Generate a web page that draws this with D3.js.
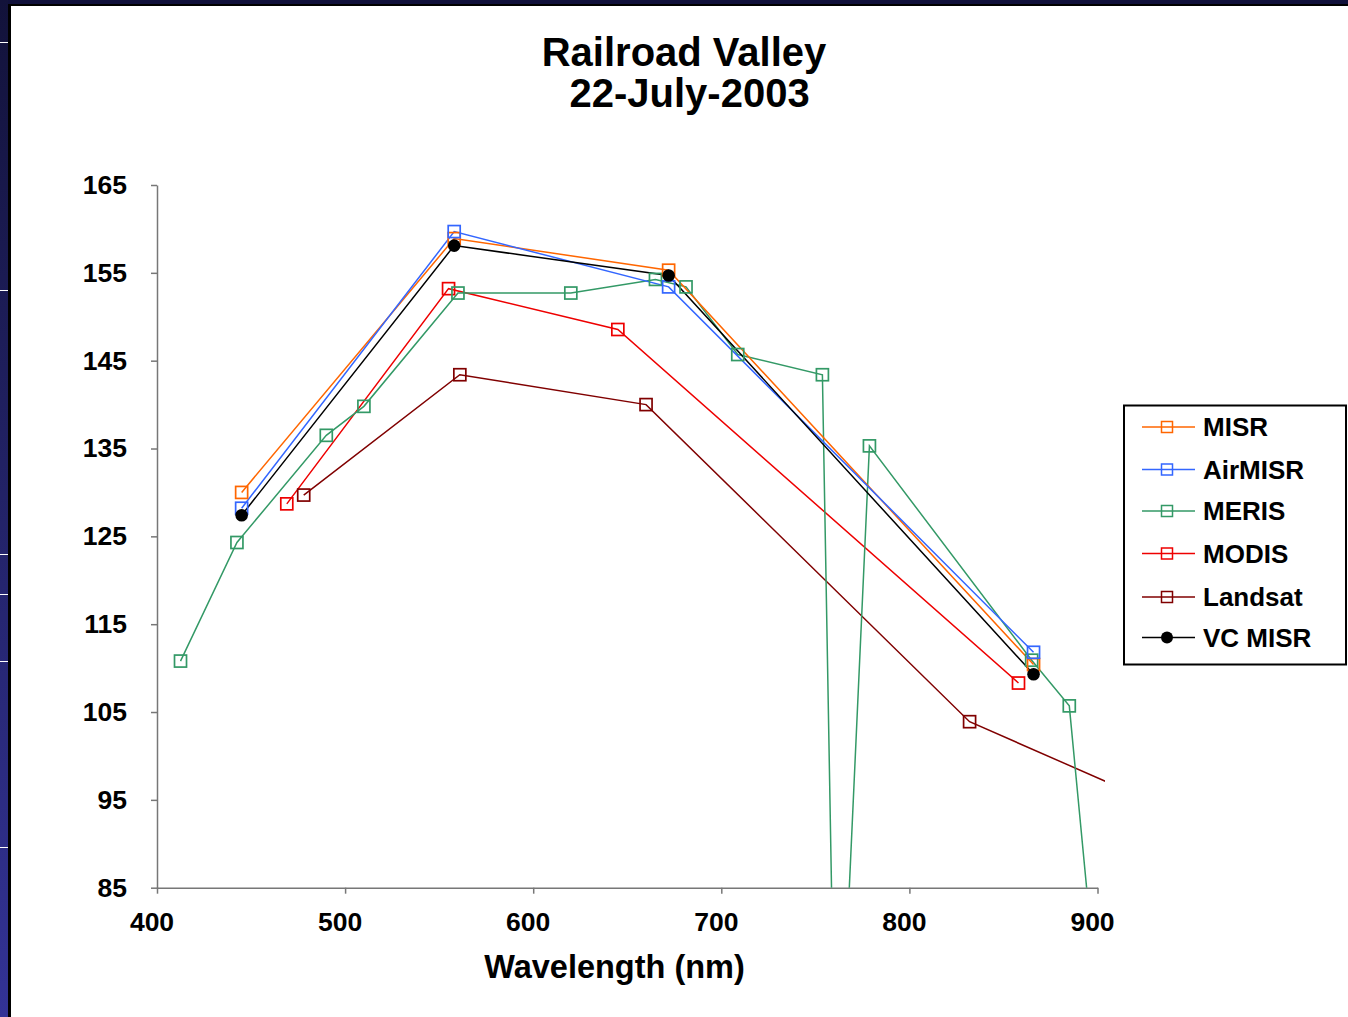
<!DOCTYPE html>
<html><head><meta charset="utf-8">
<script src="https://cdn.jsdelivr.net/npm/d3@7"></script>
<style>html,body{margin:0;padding:0;background:#fff;}svg{display:block;font-family:"Liberation Sans",Arial,sans-serif;}</style>
</head><body>
<svg id="c" width="1348" height="1017"></svg>
<script>
// ---- data ----
const titleLines = ["Railroad Valley", " 22-July-2003"];
const xLabel = "Wavelength (nm)";
const xTicks = [400, 500, 600, 700, 800, 900];
const yTicks = [85, 95, 105, 115, 125, 135, 145, 155, 165];

const misrWl = [445, 558, 672, 866];
const misrVal = [130.0, 158.9, 155.3, 110.4];
const airmisrWl = [445, 558, 672, 866];
const airmisrVal = [128.2, 159.7, 153.4, 111.8];
const merisWl = [412.5, 442.5, 490, 510, 560, 620, 665, 681.25, 708.75, 753.75, 761.25, 778.75, 865, 885, 900];
const merisVal = [110.8, 124.3, 136.5, 139.8, 152.7, 152.7, 154.25, 153.4, 145.7, 143.4, 53, 135.3, 110.9, 105.7, 72];
const modisWl = [469, 555, 645, 858];
const modisVal = [128.7, 153.2, 148.55, 108.3];
const landsatWl = [478, 561, 660, 832, 1650];
const landsatVal = [129.7, 143.4, 140.0, 103.9, 27];
const vcmisrWl = [445, 558, 672, 866];
const vcmisrVal = [127.4, 158.1, 154.7, 109.3];

const seriesNames = ["MISR", "AirMISR", "MERIS", "MODIS", "Landsat", "VC MISR"];
const seriesColors = ["#FF6600", "#3366FF", "#339966", "#EE0000", "#800000", "#000000"];
const seriesWl = [misrWl, airmisrWl, merisWl, modisWl, landsatWl, vcmisrWl];
const seriesVal = [misrVal, airmisrVal, merisVal, modisVal, landsatVal, vcmisrVal];
const seriesMarker = ["square", "square", "square", "square", "square", "circle"];

// ---- chart ----
const svg = d3.select("#c");
const defs = svg.append("defs");
const grad = defs.append("linearGradient").attr("id", "navy").attr("x1", 0).attr("y1", 0).attr("x2", 0).attr("y2", 1);
grad.append("stop").attr("offset", "0%").attr("stop-color", "#12123a");
grad.append("stop").attr("offset", "100%").attr("stop-color", "#333396");

// frame
svg.append("rect").attr("x", 0).attr("y", 0).attr("width", 1348).attr("height", 4).attr("fill", "#10103a");
svg.append("rect").attr("x", 0).attr("y", 0).attr("width", 8).attr("height", 1017).attr("fill", "url(#navy)");
svg.append("rect").attr("x", 8).attr("y", 4).attr("width", 1340).attr("height", 2).attr("fill", "#000");
svg.append("rect").attr("x", 8).attr("y", 4).attr("width", 3).attr("height", 1013).attr("fill", "#000");
[42, 290, 554, 594, 661, 847].forEach(y => {
  svg.append("rect").attr("x", 0).attr("y", y).attr("width", 8).attr("height", 1).attr("fill", "#fff");
});

const x = d3.scaleLinear().domain([400, 900]).range([157, 1097.5]);
const y = d3.scaleLinear().domain([85, 165]).range([887.7, 185]);

defs.append("clipPath").attr("id", "plot").append("rect")
  .attr("x", 150).attr("y", 150).attr("width", 1105 - 150).attr("height", 887.7 - 150);

// title
const t = svg.append("text").attr("text-anchor", "middle").attr("font-weight", "bold")
  .attr("font-size", 40).attr("fill", "#000").style("white-space", "pre");
t.append("tspan").attr("x", 684).attr("y", 66).text(titleLines[0]);
t.append("tspan").attr("x", 684).attr("y", 106.5).text(titleLines[1]);

// axes
const yAxis = d3.axisLeft(y).tickValues(yTicks).tickSize(6).tickPadding(0).tickSizeOuter(0).tickFormat(d3.format("d"));
const gy = svg.append("g").attr("transform", "translate(157,0)").call(yAxis);
gy.select(".domain").attr("stroke", "#777").attr("stroke-width", 1.5);
gy.selectAll(".tick line").attr("stroke", "#777").attr("stroke-width", 1.5);
gy.selectAll(".tick text").attr("x", -30).attr("dy", "0.32em").attr("font-size", 26.5).attr("font-weight", "bold")
  .attr("font-family", "Liberation Sans, Arial, sans-serif").attr("fill", "#000");

const xAxis = d3.axisBottom(x).tickValues(xTicks).tickSize(6).tickSizeOuter(0).tickFormat(d3.format("d"));
const gx = svg.append("g").attr("transform", "translate(0,887.7)").call(xAxis);
gx.select(".domain").attr("stroke", "#777").attr("stroke-width", 1.5);
gx.selectAll(".tick line").attr("stroke", "#777").attr("stroke-width", 1.5);
gx.selectAll(".tick text").attr("x", -5.5).attr("y", 0).attr("dy", "43").attr("font-size", 26.5).attr("font-weight", "bold")
  .attr("font-family", "Liberation Sans, Arial, sans-serif").attr("fill", "#000");

svg.append("text").attr("x", 614.5).attr("y", 978).attr("text-anchor", "middle").attr("font-weight", "bold")
  .attr("font-size", 32.5).attr("fill", "#000").text(xLabel);

// series
const line = d3.line().x(d => x(d[0])).y(d => y(d[1]));
const plot = svg.append("g").attr("clip-path", "url(#plot)");
const order = [4, 3, 2, 0, 1, 5];
order.forEach(i => {
  const pts = seriesWl[i].map((w, j) => [w, seriesVal[i][j]]);
  plot.append("path").attr("d", line(pts)).attr("fill", "none")
    .attr("stroke", seriesColors[i]).attr("stroke-width", 1.5);
});
order.forEach(i => {
  const pts = seriesWl[i].map((w, j) => [w, seriesVal[i][j]]).filter(p => p[1] >= 85 && p[0] <= 900);
  if (seriesMarker[i] === "circle") {
    plot.selectAll(null).data(pts).enter().append("circle")
      .attr("cx", d => x(d[0])).attr("cy", d => y(d[1])).attr("r", 6.3).attr("fill", "#000");
  } else {
    plot.selectAll(null).data(pts).enter().append("rect")
      .attr("x", d => x(d[0]) - 6).attr("y", d => y(d[1]) - 6).attr("width", 12).attr("height", 12)
      .attr("fill", "none").attr("stroke", seriesColors[i]).attr("stroke-width", 1.7);
  }
});

// legend
const lg = svg.append("g");
lg.append("rect").attr("x", 1124).attr("y", 405.5).attr("width", 222).attr("height", 259)
  .attr("fill", "#fff").attr("stroke", "#000").attr("stroke-width", 2);
const legendY = [427, 469.5, 511, 553.5, 597, 637.5];
seriesNames.forEach((n, i) => {
  const yy = legendY[i];
  lg.append("line").attr("x1", 1142).attr("x2", 1195).attr("y1", yy).attr("y2", yy)
    .attr("stroke", seriesColors[i]).attr("stroke-width", 1.5);
  if (seriesMarker[i] === "circle") {
    lg.append("circle").attr("cx", 1167).attr("cy", yy).attr("r", 6).attr("fill", "#000");
  } else {
    lg.append("rect").attr("x", 1167 - 5.5).attr("y", yy - 5.5).attr("width", 11).attr("height", 11)
      .attr("fill", "none").attr("stroke", seriesColors[i]).attr("stroke-width", 1.5);
  }
  lg.append("text").attr("x", 1203).attr("y", yy).attr("dy", "0.36em").attr("font-size", 26)
    .attr("font-weight", "bold").attr("fill", "#000").text(n);
});
</script>
</body></html>
